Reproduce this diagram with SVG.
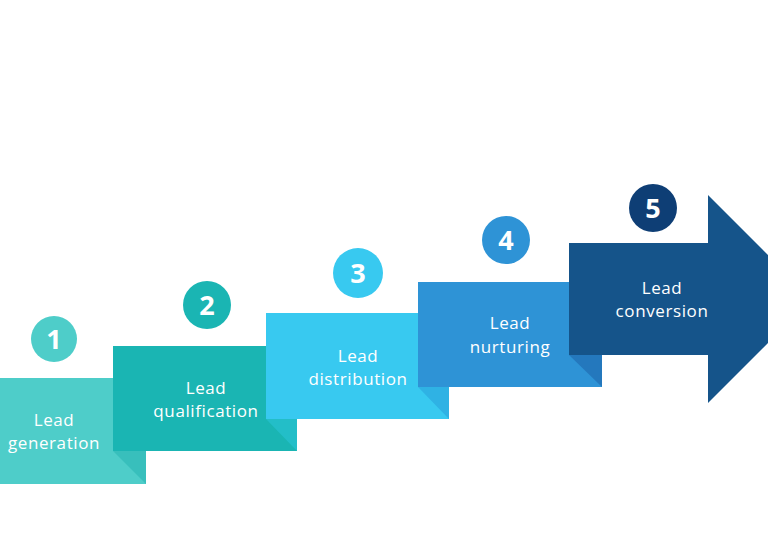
<svg xmlns="http://www.w3.org/2000/svg" width="768" height="538" viewBox="0 0 768 538">
<style>
.lbl{font-family:"Open Sans","Liberation Sans",sans-serif;font-size:17px;fill:#ffffff;text-anchor:middle;letter-spacing:0.6px}
.num{font-family:"Open Sans","Liberation Sans",sans-serif;font-size:27px;font-weight:bold;fill:#ffffff;text-anchor:middle}
</style>
<rect width="768" height="538" fill="#ffffff"/>
<g id="step1">
<rect x="0" y="378" width="146" height="106" fill="#4ECDC9"/>
<polygon points="113,451 146,451 146,484" fill="#38BFBC"/>
<circle cx="54" cy="339" r="23" fill="#4ECDC9"/>
<text class="num" x="54" y="349">1</text>
<text class="lbl" x="54" y="426">Lead</text>
<text class="lbl" x="54" y="449">generation</text>
</g>
<g id="step2">
<rect x="113" y="346" width="184" height="105" fill="#1AB5B3"/>
<polygon points="266,419 297,419 297,451" fill="#23BEC8"/>
<circle cx="207" cy="305" r="24" fill="#1AB5B3"/>
<text class="num" x="207" y="315">2</text>
<text class="lbl" x="206" y="394">Lead</text>
<text class="lbl" x="206" y="417">qualification</text>
</g>
<g id="step3">
<rect x="266" y="313" width="183" height="106" fill="#38C9F0"/>
<polygon points="418,387 449,387 449,419" fill="#2FB2E4"/>
<circle cx="358" cy="273" r="25" fill="#38C9F0"/>
<text class="num" x="358" y="283">3</text>
<text class="lbl" x="358" y="362">Lead</text>
<text class="lbl" x="358" y="385">distribution</text>
</g>
<g id="step4">
<rect x="418" y="282" width="184" height="105" fill="#2E93D6"/>
<polygon points="569,355 602,355 602,387" fill="#2478BD"/>
<circle cx="506" cy="240" r="24" fill="#2E93D6"/>
<text class="num" x="506" y="250">4</text>
<text class="lbl" x="510" y="329">Lead</text>
<text class="lbl" x="510" y="353">nurturing</text>
</g>
<g id="step5">
<polygon points="569,243 708,243 708,195 812,299 708,403 708,355 569,355" fill="#15548A"/>
<circle cx="653" cy="208" r="24" fill="#0E3E75"/>
<text class="num" x="653" y="218">5</text>
<text class="lbl" x="662" y="294">Lead</text>
<text class="lbl" x="662" y="317">conversion</text>
</g>
<g id="connectors"></g>
</svg>
